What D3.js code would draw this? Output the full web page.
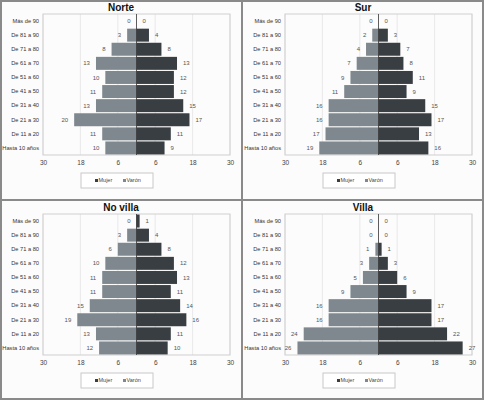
<!DOCTYPE html>
<html>
<head>
<meta charset="utf-8">
<script src="https://cdn.jsdelivr.net/npm/d3@7"></script>
<style>
  body { margin: 0; background: #fff; }
  svg { display: block; font-family: "Liberation Sans", Arial, sans-serif; }
</style>
</head>
<body>
<div id="app"></div>
<script>
//////////////////////////// data /////////////////////////////////////////

const ageGroups = ["Más de 90", "De 81 a 90", "De 71 a 80", "De 61 a 70", "De 51 a 60",
  "De 41 a 50", "De 31 a 40", "De 21 a 30", "De 11 a 20", "Hasta 10 años"];

const panelTitles = ["Norte", "Sur", "No villa", "Villa"];

const norteMujer = [0, 3, 8, 13, 10, 11, 13, 20, 11, 10];
const norteVaron = [0, 4, 8, 13, 12, 12, 15, 17, 11, 9];
const surMujer = [0, 2, 4, 7, 9, 11, 16, 16, 17, 19];
const surVaron = [0, 3, 7, 8, 11, 9, 15, 17, 13, 16];
const noVillaMujer = [0, 3, 6, 10, 11, 11, 15, 19, 13, 12];
const noVillaVaron = [1, 4, 8, 12, 13, 11, 14, 16, 11, 10];
const villaMujer = [0, 0, 1, 3, 5, 9, 16, 16, 24, 26];
const villaVaron = [0, 0, 1, 3, 6, 9, 17, 17, 22, 27];

const xTicks = [-30, -18, -6, 6, 18, 30];
const seriesNames = ["Mujer", "Varón"];

//////////////////////////// set up ///////////////////////////////////////

const W = 484, H = 400;
const panelW = 242, panelH = 200;
const margin = { top: 14, right: 12, bottom: 45, left: 43 };
const colMujer = "#7f888e";
const colVaron = "#393e43";

const panels = [
  { title: panelTitles[0], mujer: norteMujer, varon: norteVaron, x: 0, y: 0 },
  { title: panelTitles[1], mujer: surMujer, varon: surVaron, x: panelW, y: 0 },
  { title: panelTitles[2], mujer: noVillaMujer, varon: noVillaVaron, x: 0, y: panelH },
  { title: panelTitles[3], mujer: villaMujer, varon: villaVaron, x: panelW, y: panelH }
];

const svg = d3.select("#app").append("svg")
  .attr("width", W).attr("height", H);

svg.append("rect").attr("width", W).attr("height", H).attr("fill", "#fcfcfc");

const xScale = d3.scaleLinear()
  .domain([-30, 30])
  .range([margin.left, panelW - margin.right]);

const yScale = d3.scaleBand()
  .domain(ageGroups)
  .range([margin.top, panelH - margin.bottom])
  .paddingInner(0.08)
  .paddingOuter(0.04);

//////////////////////////// plot /////////////////////////////////////////

panels.forEach((p) => {
  const g = svg.append("g").attr("transform", `translate(${p.x},${p.y})`);

  // title
  g.append("text")
    .attr("x", panelW / 2)
    .attr("y", 11)
    .attr("text-anchor", "middle")
    .attr("font-size", 10)
    .attr("font-weight", "bold")
    .attr("fill", "#111")
    .text(p.title);

  // gridlines
  g.selectAll("line.grid")
    .data(xTicks)
    .enter()
    .append("line")
    .attr("class", "grid")
    .attr("x1", (d) => xScale(d)).attr("x2", (d) => xScale(d))
    .attr("y1", margin.top).attr("y2", panelH - margin.bottom)
    .attr("stroke", "#e4e4e4")
    .attr("stroke-width", 0.8);

  // plot frame
  g.append("rect")
    .attr("x", xScale(-30)).attr("y", margin.top)
    .attr("width", xScale(30) - xScale(-30))
    .attr("height", panelH - margin.bottom - margin.top)
    .attr("fill", "none")
    .attr("stroke", "#cfcfcf");

  // x axis
  const xAxis = d3.axisBottom(xScale)
    .tickValues(xTicks)
    .tickSize(0)
    .tickPadding(5)
    .tickFormat((d) => Math.abs(d));
  const ax = g.append("g")
    .attr("transform", `translate(0,${panelH - margin.bottom})`)
    .call(xAxis);
  ax.select(".domain").remove();
  ax.selectAll("text").attr("font-size", 6.5).attr("fill", "#444")
    .attr("font-family", "Liberation Sans, Arial, sans-serif");

  // y labels
  const yAxis = d3.axisLeft(yScale).tickSize(0).tickPadding(4);
  const ay = g.append("g")
    .attr("transform", `translate(${margin.left},0)`)
    .call(yAxis);
  ay.select(".domain").remove();
  ay.selectAll("text").attr("font-size", 5.7).attr("fill", "#333")
    .attr("font-family", "Liberation Sans, Arial, sans-serif");

  // bars
  g.selectAll("rect.mujer")
    .data(p.mujer)
    .enter()
    .append("rect")
    .attr("class", "mujer")
    .attr("x", (d) => xScale(-d))
    .attr("y", (d, i) => yScale(ageGroups[i]))
    .attr("width", (d) => xScale(0) - xScale(-d))
    .attr("height", yScale.bandwidth())
    .attr("fill", colMujer);

  g.selectAll("rect.varon")
    .data(p.varon)
    .enter()
    .append("rect")
    .attr("class", "varon")
    .attr("x", xScale(0))
    .attr("y", (d, i) => yScale(ageGroups[i]))
    .attr("width", (d) => xScale(d) - xScale(0))
    .attr("height", yScale.bandwidth())
    .attr("fill", colVaron);

  // zero line
  g.append("line")
    .attr("x1", xScale(0)).attr("x2", xScale(0))
    .attr("y1", margin.top).attr("y2", panelH - margin.bottom)
    .attr("stroke", "#333")
    .attr("stroke-width", 0.8);

  // value labels
  g.selectAll("text.lm")
    .data(p.mujer)
    .enter()
    .append("text")
    .attr("class", "lm")
    .attr("x", (d) => xScale(-d) - 6)
    .attr("y", (d, i) => yScale(ageGroups[i]) + yScale.bandwidth() / 2)
    .attr("dy", "0.35em")
    .attr("text-anchor", "end")
    .attr("font-size", 6)
    .attr("fill", "#555")
    .text((d) => d);

  g.selectAll("text.lv")
    .data(p.varon)
    .enter()
    .append("text")
    .attr("class", "lv")
    .attr("x", (d) => xScale(d) + 6)
    .attr("y", (d, i) => yScale(ageGroups[i]) + yScale.bandwidth() / 2)
    .attr("dy", "0.35em")
    .attr("font-size", 6)
    .attr("fill", "#555")
    .text((d) => d);

  // legend
  const lg = g.append("g").attr("transform", "translate(81,173)");
  lg.append("rect")
    .attr("width", 72).attr("height", 15)
    .attr("fill", "#fff")
    .attr("stroke", "#c8c8c8");
  const items = lg.selectAll("g.item")
    .data(seriesNames)
    .enter()
    .append("g")
    .attr("class", "item")
    .attr("transform", (d, i) => `translate(${14 + i * 28},7.5)`);
  items.append("rect")
    .attr("x", 0).attr("y", -1.5)
    .attr("width", 3).attr("height", 3)
    .attr("fill", (d, i) => (i === 0 ? colVaron : colMujer));
  items.append("text")
    .attr("x", 3.5)
    .attr("dy", "0.35em")
    .attr("font-size", 5.5)
    .attr("fill", "#444")
    .text((d) => d);
});

// panel frames
svg.append("rect")
  .attr("x", 1).attr("y", 1).attr("width", W - 2).attr("height", H - 2)
  .attr("fill", "none").attr("stroke", "#8a8a8a").attr("stroke-width", 2);
svg.append("line")
  .attr("x1", panelW).attr("x2", panelW).attr("y1", 0).attr("y2", H)
  .attr("stroke", "#8a8a8a").attr("stroke-width", 2);
svg.append("line")
  .attr("x1", 0).attr("x2", W).attr("y1", panelH).attr("y2", panelH)
  .attr("stroke", "#8a8a8a").attr("stroke-width", 2);
</script>
</body>
</html>
